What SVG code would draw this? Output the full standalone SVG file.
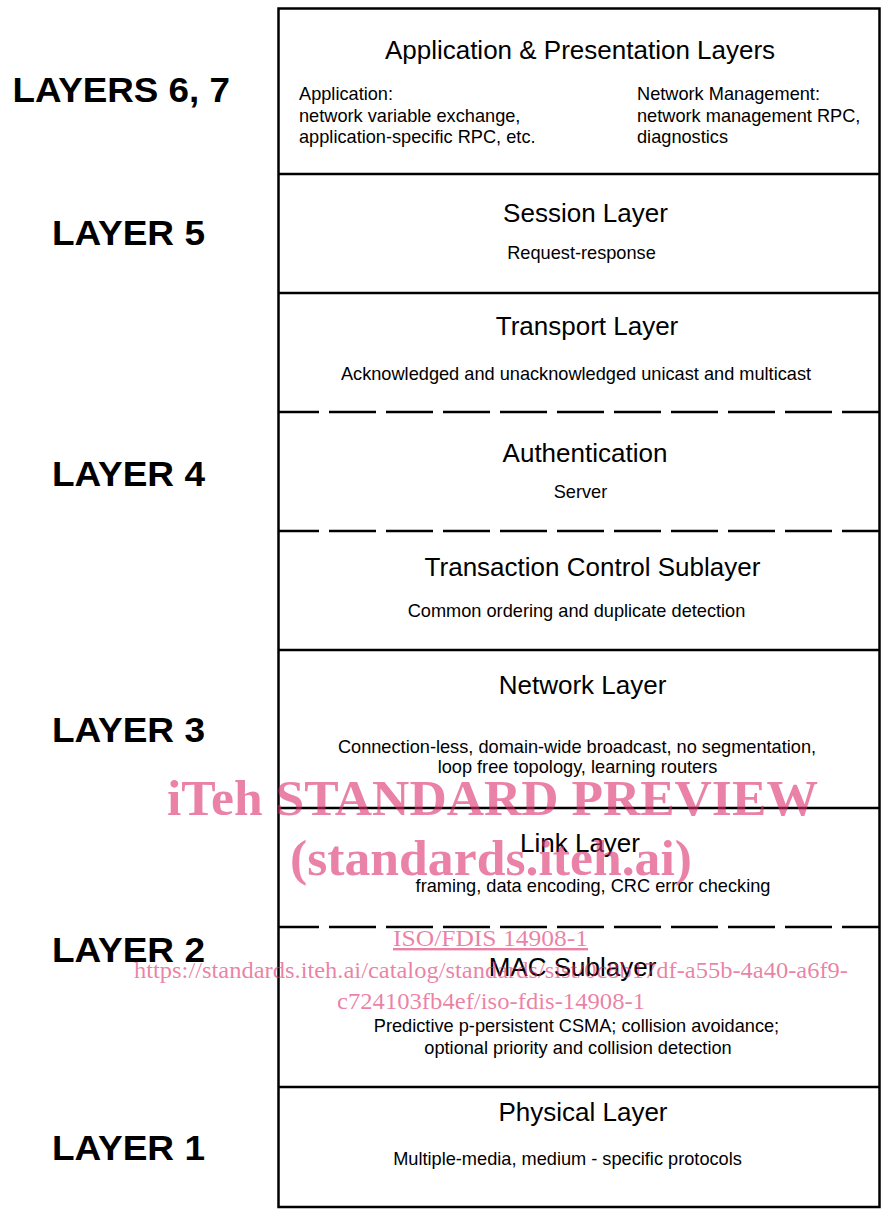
<svg xmlns="http://www.w3.org/2000/svg" width="883" height="1211" viewBox="0 0 883 1211">
<style>
.lbl{font-family:"Liberation Sans",Arial,sans-serif;font-weight:bold;font-size:35px;fill:#000}
.ttl{font-family:"Liberation Sans",Arial,sans-serif;font-size:26px;fill:#000;text-anchor:middle}
.sub{font-family:"Liberation Sans",Arial,sans-serif;font-size:18.2px;fill:#000;text-anchor:middle}
.subl{font-family:"Liberation Sans",Arial,sans-serif;font-size:18.2px;fill:#000}
.solid{stroke:#000;stroke-width:2.5;fill:none}
.dash{stroke:#000;stroke-width:2.5;fill:none;stroke-dasharray:47 10;stroke-dashoffset:6}
.wm{font-family:"Liberation Serif","Times New Roman",serif;fill:#dc2d6a;fill-opacity:0.6}
</style>
<rect width="883" height="1211" fill="#fff"/>

<g id="layer-labels">
<text class="lbl" x="12.5" y="102" textLength="217.5" lengthAdjust="spacingAndGlyphs">LAYERS 6, 7</text>
<text class="lbl" x="52" y="245" textLength="153" lengthAdjust="spacingAndGlyphs">LAYER 5</text>
<text class="lbl" x="52" y="486" textLength="153" lengthAdjust="spacingAndGlyphs">LAYER 4</text>
<text class="lbl" x="52" y="742" textLength="153" lengthAdjust="spacingAndGlyphs">LAYER 3</text>
<text class="lbl" x="52" y="962" textLength="153" lengthAdjust="spacingAndGlyphs">LAYER 2</text>
<text class="lbl" x="52" y="1160" textLength="153" lengthAdjust="spacingAndGlyphs">LAYER 1</text>
</g>

<g id="node-application">
<text class="ttl" x="580" y="59">Application &amp; Presentation Layers</text>
<text class="subl" x="299" y="100">Application:</text>
<text class="subl" x="299" y="122">network variable exchange,</text>
<text class="subl" x="299" y="143">application-specific RPC, etc.</text>
<text class="subl" x="637" y="100">Network Management:</text>
<text class="subl" x="637" y="122">network management RPC,</text>
<text class="subl" x="637" y="143">diagnostics</text>
</g>
<g id="node-session">
<text class="ttl" x="585.5" y="222">Session Layer</text>
<text class="sub" x="581.5" y="259">Request-response</text>
</g>
<g id="node-transport">
<text class="ttl" x="587" y="335">Transport Layer</text>
<text class="sub" x="576" y="380">Acknowledged and unacknowledged unicast and multicast</text>
</g>
<g id="node-authentication">
<text class="ttl" x="585" y="461.5">Authentication</text>
<text class="sub" x="580.5" y="498">Server</text>
</g>
<g id="node-transaction">
<text class="ttl" x="592.5" y="576">Transaction Control Sublayer</text>
<text class="sub" x="576.5" y="617">Common ordering and duplicate detection</text>
</g>
<g id="node-network">
<text class="ttl" x="582.5" y="694">Network Layer</text>
<text class="sub" x="577" y="753">Connection-less, domain-wide broadcast, no segmentation,</text>
<text class="sub" x="577.5" y="773">loop free topology, learning routers</text>
</g>
<g id="node-link">
<text class="ttl" x="580" y="852">Link Layer</text>
<text class="sub" x="593" y="892">framing, data encoding, CRC error checking</text>
</g>
<g id="node-mac">
<text class="ttl" x="572.5" y="976">MAC Sublayer</text>
<text class="sub" x="576.5" y="1032">Predictive p-persistent CSMA; collision avoidance;</text>
<text class="sub" x="578" y="1054">optional priority and collision detection</text>
</g>
<g id="node-physical">
<text class="ttl" x="583" y="1121">Physical Layer</text>
<text class="sub" x="567.5" y="1165">Multiple-media, medium - specific protocols</text>
</g>

<g id="connectors">
<rect class="solid" x="278.5" y="8.5" width="601" height="1198.5"/>
<line class="solid" x1="278.5" y1="174" x2="879.5" y2="174"/>
<line class="solid" x1="278.5" y1="293" x2="879.5" y2="293"/>
<line class="dash" x1="278" y1="412" x2="879.5" y2="412"/>
<line class="dash" x1="278" y1="531" x2="879.5" y2="531"/>
<line class="solid" x1="278.5" y1="650" x2="879.5" y2="650"/>
<line class="solid" x1="278.5" y1="808" x2="879.5" y2="808"/>
<line class="dash" x1="278" y1="927" x2="879.5" y2="927"/>
<line class="solid" x1="278.5" y1="1087" x2="879.5" y2="1087"/>
</g>

<g id="watermark">
<text class="wm" x="167" y="815" font-size="50" font-weight="bold" textLength="651" lengthAdjust="spacingAndGlyphs">iTeh STANDARD PREVIEW</text>
<text class="wm" x="290" y="875" font-size="50" font-weight="bold" textLength="402" lengthAdjust="spacingAndGlyphs">(standards.iteh.ai)</text>
<text class="wm" x="393" y="946" font-size="24" textLength="195" lengthAdjust="spacingAndGlyphs" text-decoration="underline">ISO/FDIS 14908-1</text>
<text class="wm" x="134" y="978" font-size="24" textLength="714" lengthAdjust="spacingAndGlyphs">https://standards.iteh.ai/catalog/standards/sist/0c8b17df-a55b-4a40-a6f9-</text>
<text class="wm" x="337" y="1009" font-size="24" textLength="308" lengthAdjust="spacingAndGlyphs">c724103fb4ef/iso-fdis-14908-1</text>
</g>
</svg>
